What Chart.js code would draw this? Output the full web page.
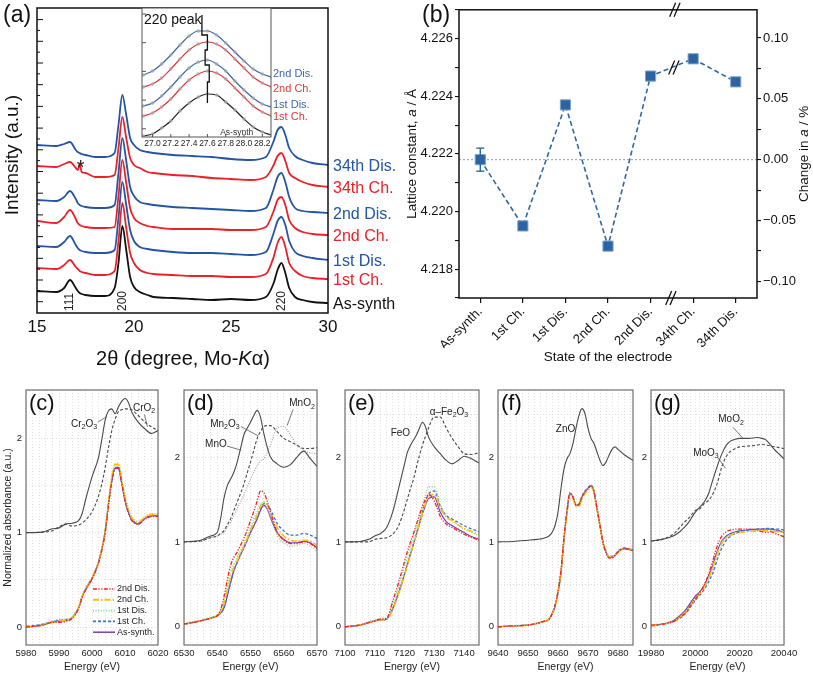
<!DOCTYPE html>
<html><head><meta charset="utf-8">
<script src="https://cdn.jsdelivr.net/npm/chart.js@4.4.1/dist/chart.umd.min.js"></script>
<style>
html,body{margin:0;padding:0;background:#fff;}
#wrap{position:relative;width:813px;height:674px;overflow:hidden;background:#fff;}
#wrap canvas{position:absolute;left:0;top:0;}
</style></head><body>
<div id="wrap">
<canvas id="cA" width="813" height="674"></canvas>
<canvas id="cI" width="813" height="674"></canvas>
<canvas id="cB" width="813" height="674"></canvas>
<canvas id="cC" width="813" height="674"></canvas>
<canvas id="cD" width="813" height="674"></canvas>
<canvas id="cE" width="813" height="674"></canvas>
<canvas id="cF" width="813" height="674"></canvas>
<canvas id="cG" width="813" height="674"></canvas>
</div>
<script>
// ---------------- DATA ----------------
// (a) XRD patterns (offset intensities, a.u.)
const xrdTwoTheta = [15,16,16.4,16.7,17,17.1,17.2,17.3,17.5,18,18.5,19,19.2,19.4,19.6,19.8,20,20.3,20.7,21,22,23,24,25,26,26.8,27.2,27.4,27.6,27.8,28,28.3,28.7,29.2,30];
const xrdAsSynth = [22,21,25,33,25,22,20,19,18,17,17,25,50,87,63,36,26,21,18,16,15,14,13,14,13,16,30,43,50,40,25,16,13,11,10];
const xrd1stCh   = [45,44,48,53,46,44,42,41,40,38,38,42,72,110,85,60,50,43,40,39,38,37,37,36,36,39,56,70,76,66,50,42,37,35,34];
const xrd1stDis  = [67,66,71,77,68,65,63,62,61,60,60,63,95,131,108,83,72,66,64,63,61,60,60,59,58,61,80,92,96,88,72,61,57,55,53];
const xrd2ndCh   = [92,90,96,103,94,90,88,87,86,85,85,86,117,153,130,105,95,90,87,86,84,84,84,83,83,86,102,113,116,108,93,85,81,79,78];
const xrd2ndDis  = [113,112,116,122,114,110,108,107,106,105,105,108,140,175,152,126,117,111,109,108,106,105,104,103,102,105,124,136,140,131,116,105,102,101,100];
const xrd34thCh  = [147,146,149,151,145,143,149,141,140,136,136,138,165,196,175,155,148,145,141,140,138,137,135,134,133,136,148,157,160,152,140,135,131,128,126];
const xrd34thDis = [168,167,169,171,163,161,160,159,158,156,156,160,188,218,198,175,168,163,161,160,158,157,156,154,153,156,172,183,186,178,165,157,153,150,148];
const xrdTicks = [15,20,25,30];
const hklLabels = ['111','200','220'];
const hklPositions = [16.7,19.4,27.6];
const asteriskAt = {x:17.25, y:150};

// (a) inset: 220 peak
const insetTwoTheta = [26.9,27.0,27.1,27.2,27.3,27.4,27.5,27.6,27.7,27.8,27.9,28.0,28.1,28.2,28.3];
const insetAsSynth = [1,3,9,16,26,34,40,43,42,35,27,18,10,5,2];
const inset1stCh   = [21,24,30,38,48,57,63,66,64,58,49,40,31,25,21];
const inset1stDis  = [31,34,41,50,60,69,75,77,73,66,56,47,39,33,30];
const inset2ndCh   = [50,53,59,68,78,87,93,95,93,87,78,69,60,54,50];
const inset2ndDis  = [62,66,73,82,92,101,106,106,102,94,85,76,68,63,60];
const insetTicks = [27.0,27.2,27.4,27.6,27.8,28.0,28.2];
const insetPeakPos = [27.54,27.60,27.575,27.62,27.60];
const insetStepLevels = [122,102,87,72,55,34];

// (b) lattice constant
const electrodeStates = ['As-synth.','1st Ch.','1st Dis.','2nd Ch.','2nd Dis.','34th Ch.','34th Dis.'];
const latticeA = [4.2218,4.2195,4.2237,4.2188,4.2247,4.2253,4.2245];
const latticeErr = [0.0004,0,0,0,0,0,0];
const latticeRef = 4.2218;
const latticeTicks = [4.218,4.220,4.222,4.224,4.226];
const changeTicks = [-0.10,-0.05,0.00,0.05,0.10];

// (c) Cr K-edge
const crEnergy = [5980,5985,5988,5990,5992,5994,5996,5997,5998,6000,6002,6003,6004,6005,6006,6007,6008,6009,6010,6011,6012,6014,6016,6018,6020];
const crCr2O3 = [1.00,1.005,1.04,1.05,1.09,1.10,1.13,1.20,1.34,1.59,1.80,1.99,2.19,2.29,2.31,2.26,2.33,2.39,2.42,2.38,2.28,2.17,2.10,2.05,2.08];
const crCrO2  = [1.00,1.005,1.02,1.06,1.09,1.07,1.08,1.10,1.13,1.22,1.39,1.52,1.69,1.90,2.08,2.20,2.28,2.30,2.31,2.31,2.30,2.24,2.17,2.12,2.08];
const crAsSynth = [0.00,0.02,0.05,0.06,0.07,0.10,0.21,0.32,0.39,0.51,0.69,0.83,1.02,1.31,1.55,1.68,1.68,1.52,1.34,1.22,1.14,1.09,1.15,1.18,1.18];
const cr1stCh   = [0.01,0.03,0.06,0.07,0.08,0.10,0.21,0.32,0.40,0.52,0.69,0.83,1.01,1.30,1.55,1.69,1.69,1.53,1.35,1.22,1.14,1.10,1.15,1.18,1.17];
const cr1stDis  = [0.01,0.03,0.06,0.08,0.08,0.11,0.22,0.33,0.41,0.53,0.70,0.84,1.03,1.33,1.59,1.73,1.73,1.57,1.39,1.26,1.17,1.12,1.17,1.20,1.20];
const cr2ndCh   = [0.00,0.02,0.05,0.06,0.07,0.10,0.21,0.32,0.39,0.51,0.69,0.82,1.01,1.32,1.58,1.72,1.72,1.55,1.37,1.24,1.16,1.11,1.16,1.19,1.19];
const cr2ndDis  = [0.00,0.02,0.05,0.05,0.06,0.09,0.20,0.31,0.39,0.51,0.68,0.82,1.00,1.29,1.54,1.68,1.69,1.53,1.34,1.21,1.13,1.09,1.14,1.17,1.17];

// (d) Mn K-edge
const mnEnergy = [6530,6535,6538,6540,6541,6542,6543,6544,6545,6546,6547,6548,6549,6550,6551,6552,6553,6554,6555,6556,6558,6560,6562,6564,6566,6568,6570];
const mnMnO   = [1.00,1.02,1.07,1.11,1.27,1.51,1.66,1.74,1.82,1.94,2.10,2.26,2.34,2.41,2.49,2.55,2.47,2.28,2.12,2.00,1.92,1.88,1.91,2.00,2.07,1.98,1.89];
const mnMn2O3 = [1.00,1.01,1.05,1.07,1.10,1.13,1.20,1.27,1.37,1.47,1.57,1.68,1.81,1.94,2.08,2.22,2.30,2.36,2.37,2.37,2.30,2.22,2.18,2.14,2.10,2.10,2.11];
const mnMnO2  = [1.00,1.01,1.05,1.07,1.09,1.11,1.17,1.23,1.31,1.39,1.47,1.55,1.65,1.74,1.82,1.90,1.95,1.98,2.05,2.14,2.34,2.36,2.26,2.14,2.08,2.05,2.04];
const mnAsSynth = [0.03,0.07,0.10,0.13,0.16,0.22,0.36,0.52,0.66,0.76,0.85,0.93,1.02,1.11,1.19,1.27,1.37,1.43,1.39,1.29,1.11,1.03,0.99,0.99,1.01,0.99,0.93];
const mn1stCh   = [0.03,0.07,0.10,0.13,0.16,0.22,0.36,0.52,0.66,0.76,0.85,0.93,1.02,1.11,1.19,1.28,1.39,1.45,1.44,1.38,1.22,1.13,1.08,1.08,1.10,1.08,1.04];
const mn1stDis  = [0.04,0.08,0.11,0.14,0.19,0.30,0.48,0.64,0.74,0.82,0.90,0.98,1.07,1.17,1.27,1.36,1.45,1.47,1.40,1.28,1.08,0.99,0.95,0.96,0.98,0.95,0.89];
const mn2ndCh   = [0.03,0.07,0.10,0.13,0.18,0.27,0.43,0.58,0.70,0.78,0.87,0.95,1.04,1.14,1.23,1.32,1.42,1.47,1.44,1.35,1.17,1.07,1.02,1.01,1.02,1.01,0.96];
const mn2ndDis  = [0.03,0.07,0.10,0.13,0.20,0.35,0.55,0.72,0.82,0.88,0.96,1.04,1.14,1.25,1.36,1.48,1.60,1.58,1.48,1.35,1.12,1.02,0.98,0.98,1.00,0.98,0.92];

// (e) Fe K-edge
const feEnergy = [7100,7105,7108,7110,7112,7114,7116,7118,7120,7121,7122,7123,7124,7125,7126,7127,7128,7130,7132,7134,7136,7138,7140,7142,7145];
const feFeO    = [1.00,1.005,1.03,1.07,1.10,1.17,1.35,1.63,1.92,2.06,2.14,2.20,2.26,2.34,2.41,2.36,2.24,2.12,2.04,1.96,1.92,1.96,2.01,1.99,1.93];
const feFe2O3  = [1.00,1.00,1.00,1.03,1.04,1.05,1.09,1.19,1.39,1.51,1.63,1.74,1.88,2.02,2.14,2.24,2.34,2.47,2.47,2.34,2.22,2.12,2.04,2.03,2.05];
const feAsSynth = [0.00,0.02,0.05,0.07,0.08,0.09,0.21,0.40,0.62,0.74,0.86,0.97,1.09,1.21,1.33,1.43,1.51,1.53,1.35,1.24,1.19,1.15,1.11,1.07,1.03];
const fe1stCh   = [0.00,0.02,0.05,0.07,0.08,0.09,0.21,0.40,0.62,0.74,0.86,0.98,1.10,1.23,1.36,1.47,1.56,1.60,1.42,1.31,1.27,1.23,1.19,1.16,1.12];
const fe1stDis  = [0.00,0.02,0.06,0.08,0.10,0.10,0.27,0.47,0.71,0.83,0.95,1.06,1.18,1.30,1.42,1.55,1.65,1.65,1.45,1.30,1.25,1.20,1.15,1.12,1.07];
const fe2ndCh   = [0.00,0.02,0.05,0.07,0.08,0.09,0.20,0.39,0.61,0.73,0.85,0.97,1.09,1.22,1.34,1.45,1.54,1.56,1.40,1.29,1.25,1.20,1.16,1.13,1.09];
const fe2ndDis  = [0.00,0.02,0.05,0.07,0.09,0.10,0.30,0.52,0.77,0.89,1.00,1.10,1.21,1.32,1.42,1.50,1.56,1.48,1.30,1.21,1.17,1.13,1.09,1.06,1.02];

// (f) Zn K-edge
const znEnergy = [9640,9645,9650,9653,9655,9657,9658,9659,9660,9661,9662,9663,9664,9665,9666,9667,9668,9669,9670,9671,9672,9673,9674,9675,9676,9677,9678,9679,9680,9682,9685];
const znZnO     = [1.00,1.005,1.02,1.03,1.04,1.07,1.11,1.19,1.35,1.63,1.86,1.98,2.04,2.16,2.34,2.49,2.57,2.51,2.34,2.22,2.16,2.06,1.96,1.90,1.94,2.02,2.09,2.12,2.09,2.03,1.96];
const znAsSynth = [0.00,0.01,0.02,0.04,0.06,0.09,0.15,0.24,0.40,0.64,1.03,1.35,1.57,1.53,1.43,1.44,1.53,1.59,1.63,1.66,1.59,1.39,1.19,0.99,0.88,0.82,0.82,0.84,0.88,0.92,0.90];
const zn1stCh   = [0.00,0.01,0.02,0.04,0.06,0.09,0.15,0.24,0.40,0.64,1.03,1.35,1.57,1.53,1.44,1.45,1.54,1.60,1.64,1.67,1.60,1.40,1.20,1.00,0.89,0.83,0.83,0.85,0.89,0.93,0.91];
const zn1stDis  = [0.00,0.01,0.02,0.04,0.06,0.09,0.15,0.24,0.41,0.65,1.04,1.36,1.58,1.54,1.44,1.45,1.54,1.60,1.64,1.67,1.60,1.40,1.20,1.00,0.89,0.83,0.83,0.85,0.89,0.93,0.91];
const zn2ndCh   = [0.00,0.01,0.02,0.04,0.06,0.09,0.15,0.24,0.40,0.64,1.03,1.34,1.56,1.51,1.42,1.42,1.51,1.57,1.61,1.64,1.58,1.38,1.18,0.99,0.88,0.82,0.82,0.84,0.88,0.92,0.90];
const zn2ndDis  = [0.00,0.01,0.02,0.04,0.06,0.09,0.15,0.25,0.42,0.67,1.06,1.37,1.58,1.53,1.43,1.44,1.53,1.59,1.63,1.66,1.59,1.39,1.19,0.99,0.87,0.81,0.81,0.84,0.88,0.92,0.90];

// (g) Mo K-edge
const moEnergy = [19980,19985,19990,19993,19995,19997,19998,20000,20002,20004,20006,20008,20010,20012,20014,20016,20018,20020,20024,20028,20030,20032,20034,20036,20038,20040];
const moMoO2 = [1.01,1.03,1.07,1.12,1.17,1.23,1.27,1.35,1.41,1.47,1.57,1.74,1.90,2.04,2.14,2.19,2.21,2.22,2.22,2.23,2.22,2.20,2.14,2.08,2.03,1.98];
const moMoO3 = [1.01,1.03,1.09,1.17,1.23,1.28,1.31,1.37,1.39,1.45,1.49,1.57,1.70,1.89,2.01,2.07,2.10,2.12,2.13,2.14,2.15,2.14,2.13,2.12,2.11,2.10];
const moAsSynth = [0.01,0.03,0.07,0.13,0.18,0.25,0.29,0.36,0.41,0.49,0.60,0.74,0.90,1.01,1.07,1.10,1.12,1.13,1.14,1.15,1.15,1.15,1.15,1.14,1.13,1.11];
const mo1stCh   = [0.01,0.03,0.06,0.10,0.14,0.20,0.24,0.31,0.37,0.44,0.53,0.64,0.80,0.93,1.02,1.07,1.10,1.12,1.14,1.15,1.15,1.16,1.16,1.15,1.15,1.14];
const mo1stDis  = [0.01,0.03,0.06,0.11,0.15,0.22,0.26,0.33,0.39,0.46,0.56,0.70,0.86,0.98,1.05,1.08,1.10,1.11,1.13,1.14,1.14,1.14,1.13,1.13,1.12,1.11];
const mo2ndCh   = [0.01,0.03,0.06,0.11,0.16,0.22,0.26,0.33,0.39,0.47,0.57,0.71,0.87,0.99,1.05,1.08,1.10,1.11,1.12,1.13,1.13,1.13,1.13,1.12,1.12,1.11];
const mo2ndDis  = [0.02,0.03,0.06,0.11,0.15,0.22,0.26,0.33,0.40,0.49,0.62,0.79,0.96,1.07,1.12,1.14,1.15,1.15,1.15,1.14,1.12,1.11,1.12,1.10,1.08,1.06];

const sampleNames = ['As-synth.','1st Ch.','1st Dis.','2nd Ch.','2nd Dis.'];

// ---------------- SETUP ----------------
const FONT = '"Liberation Sans", Arial, Helvetica, sans-serif';
Chart.defaults.font.family = FONT;
Chart.defaults.color = '#222';
Chart.defaults.animation = false;
Chart.defaults.responsive = false;
Chart.defaults.devicePixelRatio = 1;
Chart.defaults.events = [];
Chart.defaults.plugins.legend.display = false;
Chart.defaults.plugins.tooltip.enabled = false;
Chart.defaults.elements.point.radius = 0;

const W = 813, H = 674;
function pad(r, lw, bh, rw){ return {left:r.l-lw, top:r.t, right:W-r.r-(rw||0), bottom:H-r.b-bh}; }
function txt(ctx, s, x, y, o){
  o = o || {};
  ctx.save();
  ctx.font = (o.italic?'italic ':'') + (o.size||12) + 'px ' + FONT;
  ctx.fillStyle = o.color || '#222';
  ctx.textAlign = o.align || 'left';
  ctx.textBaseline = o.base || 'alphabetic';
  ctx.translate(x, y);
  if (o.rot) ctx.rotate(o.rot);
  ctx.fillText(s, 0, 0);
  ctx.restore();
}
function rich(ctx, parts, x, y, o){
  o = o || {};
  const size = o.size || 12;
  const f = st => (st==='i'?'italic ':'') + (st==='s'? size*0.7 : size) + 'px ' + FONT;
  ctx.save();
  let w = 0;
  for (const p of parts){ ctx.font = f(p[1]); w += ctx.measureText(p[0]).width; }
  ctx.translate(x, y);
  if (o.rot) ctx.rotate(o.rot);
  let cx = o.align==='center' ? -w/2 : (o.align==='right' ? -w : 0);
  const dy = o.middle ? size*0.36 : 0;
  ctx.fillStyle = o.color || '#222';
  ctx.textAlign = 'left'; ctx.textBaseline = 'alphabetic';
  for (const p of parts){ ctx.font = f(p[1]); ctx.fillText(p[0], cx, dy + (p[1]==='s'? size*0.25 : 0)); cx += ctx.measureText(p[0]).width; }
  ctx.restore();
}
function chem(s){
  const out = []; let cur = '', sub = false;
  for (const ch of s){ const d = /[0-9]/.test(ch); if (d !== sub && cur){ out.push([cur, sub?'s':'']); cur=''; } sub = d; cur += ch; }
  if (cur) out.push([cur, sub?'s':'']);
  return out;
}
function seg(ctx, x1, y1, x2, y2, color, w, dash){
  ctx.save(); ctx.strokeStyle = color; ctx.lineWidth = w; ctx.setLineDash(dash||[]);
  ctx.beginPath(); ctx.moveTo(x1,y1); ctx.lineTo(x2,y2); ctx.stroke(); ctx.restore();
}
function frame(ctx, a, color, w){
  ctx.save(); ctx.strokeStyle = color; ctx.lineWidth = w; ctx.strokeRect(a.left, a.top, a.right-a.left, a.bottom-a.top); ctx.restore();
}
const pts = (xs, ys) => xs.map((x,i)=>({x:x, y:ys[i]}));

// ---------------- (a) XRD ----------------
const BLUE = '#2354a6', RED = '#ea2128', BLACK = '#111111';
const xrdSeries = [
  {name:'34th Dis.', data:xrd34thDis, color:BLUE},
  {name:'34th Ch.', data:xrd34thCh, color:RED},
  {name:'2nd Dis.', data:xrd2ndDis, color:BLUE},
  {name:'2nd Ch.', data:xrd2ndCh, color:RED},
  {name:'1st Dis.', data:xrd1stDis, color:BLUE},
  {name:'1st Ch.', data:xrd1stCh, color:RED},
  {name:'As-synth', data:xrdAsSynth, color:BLACK}
];
const rectA = {l:37, t:8, r:328, b:313};
new Chart(document.getElementById('cA'), {
  type:'line',
  data:{datasets: xrdSeries.map(s => ({label:s.name, data:pts(xrdTwoTheta, s.data), borderColor:s.color, borderWidth:1.8, pointRadius:0, cubicInterpolationMode:'monotone'}))},
  options:{
    layout:{padding:pad(rectA, 0, 30)},
    scales:{
      x:{type:'linear', min:15, max:30, afterFit:s=>{s.height=30;}, border:{display:false},
         grid:{drawOnChartArea:false, drawTicks:false},
         ticks:{stepSize:5, maxTicksLimit:100, autoSkip:false, maxRotation:0, padding:4, font:{size:17}, color:'#111',
                callback:v => xrdTicks.includes(v) ? String(v) : ''}},
      y:{display:false, min:0, max:305}
    }
  },
  plugins:[{id:'decoA', afterDraw(chart){
    const {ctx, chartArea:a, scales:{x, y}} = chart;
    frame(ctx, a, '#111', 1.5);
    for (let k=0;;k++){ const py = a.bottom - 11.3 - k*10.85; if (py < a.top+3) break; seg(ctx, a.left, py, a.left + (k%2 ? 3 : 6), py, '#111', 1); }
    hklLabels.forEach((t,i) => txt(ctx, t, x.getPixelForValue(hklPositions[i]), a.bottom-2, {size:12, rot:-Math.PI/2, base:'middle', color:'#222'}));
    txt(ctx, '*', x.getPixelForValue(asteriskAt.x), y.getPixelForValue(asteriskAt.y)+11, {size:20, align:'center'});
    xrdSeries.forEach(s => txt(ctx, s.name, a.right+5, y.getPixelForValue(s.data[s.data.length-1])+2, {size:16, base:'middle', color:s.color}));
    txt(ctx, '(a)', 3, 22, {size:23, color:'#111'});
    txt(ctx, 'Intensity (a.u.)', 18, 155, {size:19, rot:-Math.PI/2, align:'center', color:'#111'});
    rich(ctx, [['2θ (degree, Mo-',''],['K','i'],['α)','']], 183, 365, {size:20, align:'center', color:'#111'});
  }}]
});

// ---------------- (a) inset ----------------
const insetSeries = [
  {name:'2nd Dis.', data:inset2ndDis, color:'#3c67ad', dy:-3},
  {name:'2nd Ch.', data:inset2ndCh, color:'#e8333a', dy:2},
  {name:'1st Dis.', data:inset1stDis, color:'#3c67ad', dy:-2},
  {name:'1st Ch.', data:inset1stCh, color:'#e8333a', dy:1},
  {name:'', data:insetAsSynth, color:'#222', dy:0}
];
const stepPts = [];
insetPeakPos.forEach((p,i) => { stepPts.push({x:p, y:insetStepLevels[i]}); stepPts.push({x:p, y:insetStepLevels[i+1]}); });
const rectIn = {l:142, t:8, r:271, b:137};
new Chart(document.getElementById('cI'), {
  type:'line',
  data:{datasets:[{data:stepPts, borderColor:'#111', borderWidth:1.3, pointRadius:0, tension:0}].concat(
    insetSeries.map(s => ({data:pts(insetTwoTheta, s.data), borderColor:s.color, borderWidth:1.2, cubicInterpolationMode:'monotone',
      pointRadius:1.8, pointBackgroundColor:'rgba(165,165,165,0.8)', pointBorderWidth:0})))},
  options:{
    layout:{padding:pad(rectIn, 0, 14)},
    scales:{
      x:{type:'linear', min:26.885, max:28.295, afterFit:s=>{s.height=14;}, border:{display:false},
         grid:{drawOnChartArea:false, drawTicks:false},
         ticks:{stepSize:0.1, maxTicksLimit:100, includeBounds:false, autoSkip:false, maxRotation:0, padding:2, font:{size:8.5}, color:'#222',
                callback:v => insetTicks.some(t => Math.abs(t-v) < 1e-6) ? v.toFixed(1) : ''}},
      y:{display:false, min:0, max:129}
    }
  },
  plugins:[{id:'decoI',
    beforeDraw(chart){ const {ctx, chartArea:a} = chart; ctx.save(); ctx.fillStyle='#fff'; ctx.fillRect(a.left, a.top, a.right-a.left, a.bottom-a.top); ctx.restore(); },
    afterDraw(chart){
      const {ctx, chartArea:a, scales:{x, y}} = chart;
      frame(ctx, a, '#555', 1);
      for (let k=0;k<5;k++){ const py = a.top + 6 + k*28.7; seg(ctx, a.left, py, a.left+4, py, '#555', 1); }
      insetTicks.forEach(v => { const px = x.getPixelForValue(v); seg(ctx, px, a.bottom, px, a.bottom-3, '#555', 1); });
      insetSeries.forEach(s => { if (s.name) txt(ctx, s.name, a.right+2, y.getPixelForValue(s.data[s.data.length-1])+s.dy, {size:11, base:'middle', color:s.color}); });
      txt(ctx, '220 peak', a.left+2, a.top+16, {size:14, color:'#111'});
      txt(ctx, 'As-synth', x.getPixelForValue(27.92), a.bottom-2, {size:8.5, align:'center', color:'#333'});
    }}]
});

// ---------------- (b) lattice constant ----------------
const rectB = {l:459, t:9, r:757, b:298};
const bMin = 4.217, bMax = 4.227;
const toPct = v => (v/latticeRef - 1)*100;
const BCOL = '#2e68a3';
new Chart(document.getElementById('cB'), {
  type:'line',
  data:{labels:electrodeStates, datasets:[{data:latticeA, yAxisID:'y', borderColor:BCOL, borderWidth:1.6, borderDash:[5,3], tension:0,
    pointStyle:'rect', pointRadius:7.2, pointBackgroundColor:'#2c63a0', pointBorderColor:'#7ea6d0', pointBorderWidth:1}]},
  options:{
    layout:{padding:pad(rectB, 40, 50, 40)},
    scales:{
      x:{type:'category', offset:true, afterFit:s=>{s.height=50;}, border:{display:false},
         grid:{offset:false, drawOnChartArea:false, drawTicks:true, tickLength:5, color:'#111', lineWidth:1.2},
         ticks:{minRotation:45, maxRotation:45, autoSkip:false, font:{size:13}, color:'#111', padding:1}},
      y:{min:bMin, max:bMax, afterFit:s=>{s.width=40;}, border:{display:false},
         grid:{drawOnChartArea:false, tickLength:4, color:'#111', lineWidth:1.1},
         ticks:{stepSize:0.001, maxTicksLimit:100, includeBounds:false, autoSkip:false, font:{size:13}, color:'#111', padding:2,
                callback:v => latticeTicks.some(t => Math.abs(t-v) < 1e-7) ? v.toFixed(3) : ''}},
      y1:{position:'right', min:toPct(bMin), max:toPct(bMax), afterFit:s=>{s.width=40;}, border:{display:false},
         grid:{drawOnChartArea:false, tickLength:4, color:'#111', lineWidth:1.1},
         ticks:{stepSize:0.025, maxTicksLimit:100, includeBounds:false, autoSkip:false, font:{size:13}, color:'#111', padding:2,
                callback:v => changeTicks.some(t => Math.abs(t-v) < 1e-7) ? v.toFixed(2).replace('-', '\u2212') : ''}}
    }
  },
  plugins:[{id:'decoB',
    beforeDatasetsDraw(chart){
      const {ctx, chartArea:a, scales:{y}} = chart;
      const py = y.getPixelForValue(latticeRef);
      seg(ctx, a.left, py, a.right, py, '#8c9cb0', 1, [2,2]);
    },
    afterDatasetsDraw(chart){
      const {ctx, scales:{x, y}} = chart;
      latticeA.forEach((v,i) => {
        if (!latticeErr[i]) return;
        const px = x.getPixelForValue(i), p1 = y.getPixelForValue(v+latticeErr[i]), p2 = y.getPixelForValue(v-latticeErr[i]);
        seg(ctx, px, p1, px, p2, BCOL, 1.4); seg(ctx, px-4, p1, px+4, p1, BCOL, 1.4); seg(ctx, px-4, p2, px+4, p2, BCOL, 1.4);
      });
    },
    afterDraw(chart){
      const {ctx, chartArea:a, scales:{x, y}} = chart;
      frame(ctx, a, '#111', 1.5);
      const xb = (x.getPixelForValue(4) + x.getPixelForValue(5))/2;
      const brk = (cx, cy) => { for (const d of [-2.2, 2.2]) seg(ctx, cx+d-3, cy+7, cx+d+3, cy-7, '#111', 1.3); };
      brk(xb+3, a.top); brk(xb-1, a.bottom);
      brk(xb+2, (y.getPixelForValue(latticeA[4]) + y.getPixelForValue(latticeA[5]))/2);
      txt(ctx, '(b)', 422, 22, {size:23, color:'#111'});
      rich(ctx, [['Lattice constant, ',''],['a','i'],[' / Å','']], 416, (a.top+a.bottom)/2, {size:13.5, rot:-Math.PI/2, align:'center', color:'#111'});
      rich(ctx, [['Change in ',''],['a','i'],[' / %','']], 808, (a.top+a.bottom)/2, {size:13.5, rot:-Math.PI/2, align:'center', color:'#111'});
      txt(ctx, 'State of the electrode', 608, 361, {size:13.5, align:'center', color:'#111'});
    }}]
});

// ---------------- (c)-(g) XANES ----------------
const SAMPLE_STYLES = [
  {color:'#7b3fb0', dash:[], w:1.2},
  {color:'#3a6fd8', dash:[3,2], w:1.3},
  {color:'#86cf86', dash:[1,1.6], w:1.3},
  {color:'#ffc000', dash:[6,2,1.5,2], w:1.6},
  {color:'#ff1f1f', dash:[4,1.5,1.2,1.5,1.2,1.5], w:1.3}
];
const REF_STYLES = {solid:{color:'#4a4a4a', dash:[], w:1.1}, dashed:{color:'#4a4a4a', dash:[3,2], w:1.1}, dotted:{color:'#a0a0a0', dash:[1,1.4], w:1.1}};

function makeXanes(id, p){
  const ds = [];
  [4,3,2,1,0].forEach(k => { const st = SAMPLE_STYLES[k];
    ds.push({data:pts(p.x, p.samples[k]), borderColor:st.color, borderDash:st.dash, borderWidth:st.w, pointRadius:0, cubicInterpolationMode:'monotone'}); });
  p.refs.forEach(r => { const st = REF_STYLES[r.style];
    ds.push({data:pts(p.x, r.data), borderColor:st.color, borderDash:st.dash, borderWidth:st.w, pointRadius:0, cubicInterpolationMode:'monotone'}); });
  new Chart(document.getElementById(id), {
    type:'line', data:{datasets:ds},
    options:{
      layout:{padding:pad(p.rect, 20, 24)},
      scales:{
        x:{type:'linear', min:p.xMin, max:p.xMax, afterFit:s=>{s.height=24;}, border:{display:false, dash:[1,2]},
           grid:{color:'#d6d6d6', lineWidth:0.7, drawTicks:false},
           ticks:{stepSize:2, maxTicksLimit:100, includeBounds:false, autoSkip:false, maxRotation:0, padding:3, font:{size:9.5}, color:'#222',
                  callback:v => (Math.round(v) % p.labelEvery === 0) ? String(v) : ''}},
        y:{min:p.yMin, max:p.yMax, afterFit:s=>{s.width=20;}, border:{display:false, dash:[1,2]},
           grid:{color:'#d0d0d0', lineWidth:0.7, drawTicks:false},
           ticks:{stepSize:0.5, maxTicksLimit:100, includeBounds:false, autoSkip:false, padding:4, font:{size:9.5}, color:'#222',
                  callback:v => Number.isInteger(v) ? String(v) : ''}}
      }
    },
    plugins:[{id:'deco'+id, afterDraw(chart){
      const {ctx, chartArea:a, scales:{x, y}} = chart;
      frame(ctx, a, '#555', 1);
      txt(ctx, p.letter, a.left+3, a.top+20, {size:22, color:'#111'});
      txt(ctx, 'Energy (eV)', (a.left+a.right)/2, 670, {size:10.5, align:'center', color:'#222'});
      p.notes.forEach(n => {
        if (n.lead) seg(ctx, x.getPixelForValue(n.lead[0]), y.getPixelForValue(n.lead[1]), x.getPixelForValue(n.lead[2]), y.getPixelForValue(n.lead[3]), '#555', 0.8);
        rich(ctx, chem(n.t), x.getPixelForValue(n.x), y.getPixelForValue(n.y), {size:10, align:'center', middle:true, color:'#222'});
      });
      if (p.legend){
        [4,3,2,1,0].forEach((k,i) => { const st = SAMPLE_STYLES[k]; const ry = a.bottom - 56 + i*10.8;
          seg(ctx, a.left+67, ry, a.left+89, ry, st.color, st.w+0.3, st.dash);
          txt(ctx, sampleNames[k], a.left+91, ry, {size:9, base:'middle', color:'#222'}); });
      }
      if (p.yTitle) txt(ctx, 'Normalized absorbance (a.u.)', 10.5, (a.top+a.bottom)/2, {size:10.5, rot:-Math.PI/2, align:'center', color:'#222'});
    }}]
  });
}

makeXanes('cC', {rect:{l:26,t:390,r:158,b:645}, x:crEnergy, xMin:5980, xMax:6020, yMin:-0.19, yMax:2.51, labelEvery:10,
  samples:[crAsSynth, cr1stCh, cr1stDis, cr2ndCh, cr2ndDis],
  refs:[{data:crCr2O3, style:'solid'}, {data:crCrO2, style:'dashed'}],
  notes:[{t:'Cr2O3', x:5997.6, y:2.16, lead:[6001.8,2.17,6004.5,2.23]}, {t:'CrO2', x:6015.8, y:2.33, lead:[6015.9,2.25,6016.8,2.12]}],
  letter:'(c)', legend:true, yTitle:true});
makeXanes('cD', {rect:{l:184,t:390,r:317,b:645}, x:mnEnergy, xMin:6530, xMax:6570, yMin:-0.215, yMax:2.79, labelEvery:10,
  samples:[mnAsSynth, mn1stCh, mn1stDis, mn2ndCh, mn2ndDis],
  refs:[{data:mnMnO, style:'solid'}, {data:mnMn2O3, style:'dashed'}, {data:mnMnO2, style:'dotted'}],
  notes:[{t:'Mn2O3', x:6542.3, y:2.40, lead:[6547.1,2.36,6552.3,2.25]}, {t:'MnO', x:6539.6, y:2.16, lead:[6542.9,2.13,6547.2,2.08]},
         {t:'MnO2', x:6565.5, y:2.64, lead:[6562.8,2.56,6561.0,2.37]}],
  letter:'(d)'});
makeXanes('cE', {rect:{l:345,t:390,r:479,b:645}, x:feEnergy, xMin:7100, xMax:7145, yMin:-0.215, yMax:2.79, labelEvery:10,
  samples:[feAsSynth, fe1stCh, fe1stDis, fe2ndCh, fe2ndDis],
  refs:[{data:feFeO, style:'solid'}, {data:feFe2O3, style:'dashed'}],
  notes:[{t:'FeO', x:7118.6, y:2.29}, {t:'α–Fe2O3', x:7134.9, y:2.54}],
  letter:'(e)'});
makeXanes('cF', {rect:{l:498,t:390,r:633,b:645}, x:znEnergy, xMin:9640, xMax:9685, yMin:-0.215, yMax:2.79, labelEvery:10,
  samples:[znAsSynth, zn1stCh, zn1stDis, zn2ndCh, zn2ndDis],
  refs:[{data:znZnO, style:'solid'}],
  notes:[{t:'ZnO', x:9662.5, y:2.34}],
  letter:'(f)'});
makeXanes('cG', {rect:{l:651,t:390,r:784,b:645}, x:moEnergy, xMin:19980, xMax:20040, yMin:-0.215, yMax:2.79, labelEvery:20,
  samples:[moAsSynth, mo1stCh, mo1stDis, mo2ndCh, mo2ndDis],
  refs:[{data:moMoO2, style:'solid'}, {data:moMoO3, style:'dashed'}],
  notes:[{t:'MoO2', x:20016.1, y:2.45, lead:[20017,2.35,20021.5,2.22]}, {t:'MoO3', x:20004.8, y:2.06, lead:[20010.2,1.99,20013.6,1.87]}],
  letter:'(g)'});
</script>
</body></html>
